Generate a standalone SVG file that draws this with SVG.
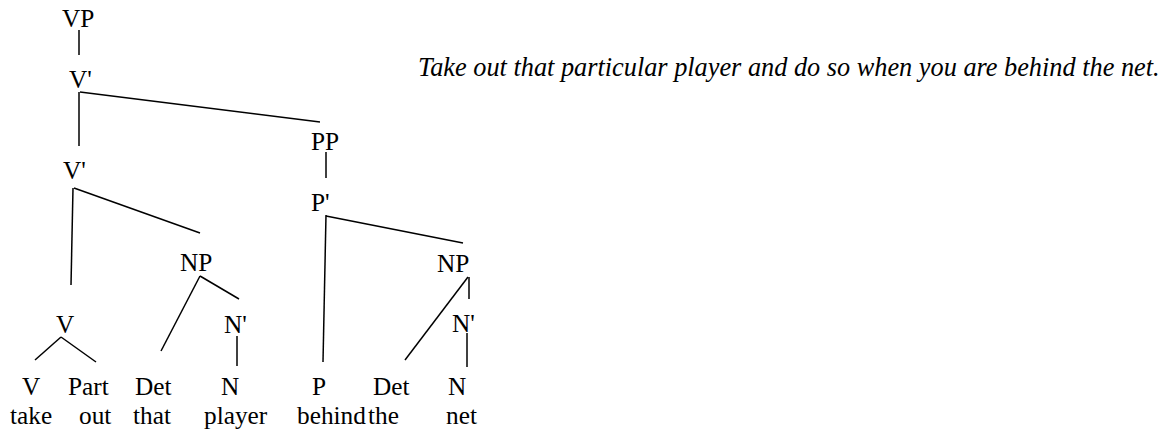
<svg xmlns="http://www.w3.org/2000/svg" width="1169" height="435" viewBox="0 0 1169 435">
<style>
text{font-family:"Liberation Serif","Times New Roman",serif;font-size:25.3px;fill:#000}
.s{font-style:italic;font-size:26.3px}
#edges line{stroke:#000;stroke-width:1.5;stroke-linecap:butt}
</style>
<rect width="1169" height="435" fill="#fff"/>
<g id="edges">
<line x1="79" y1="30" x2="79" y2="55"/>
<line x1="79" y1="92" x2="79" y2="146"/>
<line x1="80" y1="92" x2="320" y2="122"/>
<line x1="326" y1="152" x2="326" y2="178"/>
<line x1="73" y1="188" x2="71" y2="285"/>
<line x1="74" y1="188" x2="200" y2="233"/>
<line x1="326" y1="215" x2="323" y2="362"/>
<line x1="326" y1="216" x2="463" y2="243"/>
<line x1="200" y1="276" x2="161" y2="351"/>
<line x1="200" y1="276" x2="239" y2="299"/>
<line x1="61" y1="337" x2="35" y2="360"/>
<line x1="61" y1="337" x2="96" y2="362"/>
<line x1="237" y1="336" x2="237" y2="366"/>
<line x1="468" y1="277" x2="405" y2="360"/>
<line x1="469" y1="277" x2="469" y2="299"/>
<line x1="467" y1="333" x2="467" y2="367"/>
</g>
<g id="n-vp"><text x="62" y="27">VP</text></g>
<g id="n-vbar1"><text x="69" y="88">V'</text></g>
<g id="n-pp"><text x="311" y="150">PP</text></g>
<g id="n-vbar2"><text x="63" y="179">V'</text></g>
<g id="n-pbar"><text x="311" y="211">P'</text></g>
<g id="n-np1"><text x="180" y="271">NP</text></g>
<g id="n-np2"><text x="437" y="272">NP</text></g>
<g id="n-v"><text x="56" y="333">V</text></g>
<g id="n-nbar1"><text x="224" y="333">N'</text></g>
<g id="n-nbar2"><text x="452" y="332">N'</text></g>
<g id="n-v-leaf"><text x="22" y="395">V</text><text x="10" y="424">take</text></g>
<g id="n-part"><text x="68" y="395">Part</text><text x="79" y="424">out</text></g>
<g id="n-det1"><text x="135" y="395">Det</text><text x="133" y="424">that</text></g>
<g id="n-n1"><text x="221" y="395">N</text><text x="204" y="424">player</text></g>
<g id="n-p"><text x="312" y="395">P</text><text x="297" y="424">behind</text></g>
<g id="n-det2"><text x="373" y="395">Det</text><text x="368" y="424">the</text></g>
<g id="n-n2"><text x="448" y="395">N</text><text x="446" y="424">net</text></g>
<g id="sentence"><text class="s" x="418" y="76">Take out that particular player and do so when you are behind the net.</text></g>
</svg>
